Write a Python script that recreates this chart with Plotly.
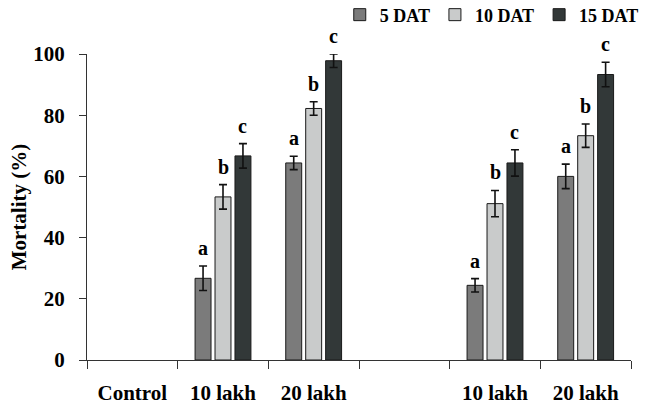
import plotly.graph_objects as go

categories = ["Control", "10 lakh", "20 lakh", "", "10 lakh", "20 lakh"]
series_names = ["5 DAT", "10 DAT", "15 DAT"]
dat5 = [None, 26.7, 64.4, None, 24.4, 60.0]
dat10 = [None, 53.3, 82.2, None, 51.1, 73.3]
dat15 = [None, 66.7, 97.8, None, 64.4, 93.3]
err5 = [None, 4.0, 2.2, None, 2.2, 4.0]
err10 = [None, 4.0, 2.2, None, 4.3, 3.8]
err15 = [None, 4.0, 2.2, None, 4.3, 4.0]
letters5 = [None, "a", "a", None, "a", "a"]
letters10 = [None, "b", "b", None, "b", "b"]
letters15 = [None, "c", "c", None, "c", "c"]

colors = ["#7b7b7b", "#c9cbcb", "#323838"]
values = [dat5, dat10, dat15]
errors = [err5, err10, err15]
letters = [letters5, letters10, letters15]

W, H = 647, 404
ML, MR, MT, MB = 87, 16, 54, 44
BARGAP = 0.34
FONT = "Liberation Serif, Times New Roman, serif"

xpos = list(range(len(categories)))

fig = go.Figure()
for name, vals, errs, col in zip(series_names, values, errors, colors):
    fig.add_trace(go.Bar(
        x=xpos, y=vals, name=name,
        marker=dict(color=col, line=dict(color="#1a1a1a", width=1)),
        error_y=dict(type="data", array=errs, visible=True,
                     color="#111111", thickness=1.6, width=4),
    ))

plot_w = W - ML - MR
cat_px = plot_w / len(categories)
slot = cat_px * (1 - BARGAP) / 3
annotations = []
for i, (vals, errs, labs) in enumerate(zip(values, errors, letters)):
    for x, v, e, t in zip(xpos, vals, errs, labs):
        if v is None or t is None:
            continue
        annotations.append(dict(
            x=x, y=v + e, xref="x", yref="y", text=t, showarrow=False,
            xshift=(i - 1) * slot, yshift=5, yanchor="bottom",
            font=dict(family=FONT, size=20, color="black", weight="bold"),
        ))

fig.update_layout(
    width=W, height=H,
    margin=dict(l=ML, r=MR, t=MT, b=MB, autoexpand=False),
    paper_bgcolor="white", plot_bgcolor="white",
    barmode="group", bargap=BARGAP, bargroupgap=0.2,
    font=dict(family=FONT, size=21, color="black", weight="bold"),
    annotations=annotations,
    showlegend=True,
    legend=dict(orientation="h", xref="container", yref="container",
                x=0.995, xanchor="right", y=0.963, yanchor="middle",
                font=dict(family=FONT, size=18, color="black", weight="bold"),
                itemwidth=30, tracegroupgap=0, bgcolor="rgba(0,0,0,0)"),
    xaxis=dict(
        range=[-0.5, len(categories) - 0.5], automargin=False,
        tickmode="array", tickvals=xpos, ticktext=categories,
        ticks="", showline=True, linecolor="#333333", linewidth=1,
        showgrid=False, zeroline=False, ticklabelstandoff=14,
        tickfont=dict(family=FONT, size=21, color="black", weight="bold"),
        minor=dict(tick0=-0.5, dtick=1, ticks="outside", ticklen=8,
                   tickcolor="#333333", tickwidth=1, showgrid=False),
    ),
    yaxis=dict(
        range=[0, 100], dtick=20, tick0=0, automargin=False,
        ticks="outside", ticklen=7, tickcolor="#333333", tickwidth=1,
        showline=True, linecolor="#333333", linewidth=1,
        showgrid=False, zeroline=False, ticklabelstandoff=10,
        tickfont=dict(family=FONT, size=21, color="black", weight="bold"),
        title=dict(text="Mortality (%)", standoff=0,
                   font=dict(family=FONT, size=21, color="black", weight="bold")),
    ),
)

fig.write_html("out.html", config={"displayModeBar": False},
               post_script="document.body.style.margin='0';document.body.style.overflow='hidden';")
